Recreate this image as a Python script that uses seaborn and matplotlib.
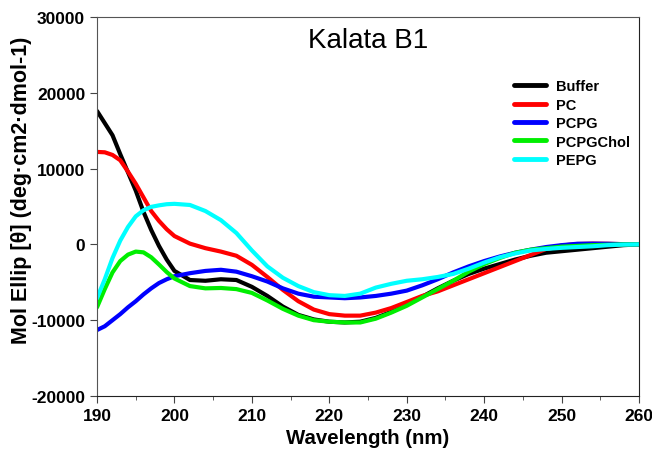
import numpy as np
import pandas as pd
import matplotlib
matplotlib.use("Agg")
import matplotlib.pyplot as plt
import seaborn as sns
from matplotlib.ticker import MultipleLocator

# CD spectra of Kalata B1 in buffer and lipid vesicles
# 1 nm steps up to 199 nm where the curves bend sharply, then 2 nm steps
wavelength = list(range(190, 200)) + list(range(200, 261, 2))

buffer_ = [17600, 16000, 14400, 11900, 9500, 7100, 4300, 1900, -200, -2000,
           -3500, -4700, -4800, -4600, -4700,
           -5600, -6800, -8200, -9300, -9900, -10200, -10300, -10200, -9700, -8900,
           -7900, -6900, -5800, -4800, -3900, -3200, -2600, -2000, -1500, -1100,
           -900, -700, -500, -300, -100, 0]
pc = [12200, 12150, 11800, 11100, 9600, 8000, 6200, 4400, 3100, 2000,
      1100, 100, -500, -950, -1500,
      -2700, -4300, -6000, -7500, -8600, -9200, -9400, -9400, -9000, -8400,
      -7600, -6800, -6200, -5400, -4600, -3800, -3000, -2200, -1400, -600,
      -150, 50, 100, 80, 30, 0]
pcpg = [-11300, -10800, -10000, -9200, -8300, -7500, -6600, -5800, -5100, -4600,
        -4200, -3800, -3500, -3350, -3600,
        -4200, -4900, -5800, -6500, -6900, -7000, -7100, -7000, -6800, -6500,
        -6100, -5400, -4600, -3700, -2900, -2200, -1600, -1100, -700, -350,
        -100, 80, 100, 80, 30, 0]
pcpgchol = [-8300, -5900, -3700, -2200, -1350, -950, -1050, -1700, -2650, -3650,
            -4500, -5500, -5800, -5750, -5900,
            -6400, -7400, -8500, -9400, -10000, -10200, -10300, -10300, -9800, -9000,
            -8100, -7000, -5900, -4800, -3600, -2600, -1800, -1100, -700, -500,
            -300, -200, -100, -50, 0, 0]
pepg = [-7100, -4600, -1800, 500, 2300, 3700, 4500, 4950, 5150, 5300,
        5350, 5200, 4400, 3200, 1500,
        -800, -2900, -4400, -5500, -6300, -6700, -6800, -6500, -5700, -5200,
        -4800, -4600, -4300, -3900, -3200, -2400, -1700, -1200, -800, -600,
        -450, -350, -250, -100, -30, 0]

samples = ["Buffer", "PC", "PCPG", "PCPGChol", "PEPG"]
colors = ["#000000", "#ff0000", "#0000ff", "#00ee00", "#00ffff"]

df = pd.DataFrame({
    "wavelength": wavelength * 5,
    "ellip": buffer_ + pc + pcpg + pcpgchol + pepg,
    "sample": sum([[s] * len(wavelength) for s in samples], []),
})

sns.set_style("ticks")
plt.rcParams["font.family"] = ["Liberation Sans", "DejaVu Sans"]
plt.rcParams["text.color"] = "black"
plt.rcParams["axes.labelcolor"] = "black"
plt.rcParams["axes.unicode_minus"] = False

fig = plt.figure(figsize=(6.52, 4.52), dpi=100)
ax = fig.add_axes([0.1488, 0.1217, 0.8313, 0.8385])

sns.lineplot(data=df, x="wavelength", y="ellip", hue="sample",
             palette=dict(zip(samples, colors)), hue_order=samples,
             linewidth=3, ax=ax)
for line in ax.get_lines():
    line.set_solid_joinstyle("round")
    line.set_solid_capstyle("round")

ax.set_xlim(190, 260)
ax.set_ylim(-20000, 30000)
ax.xaxis.set_major_locator(MultipleLocator(10))
ax.xaxis.set_minor_locator(MultipleLocator(5))
ax.yaxis.set_major_locator(MultipleLocator(10000))

for side in ["left", "top"]:
    ax.spines[side].set_color("#555555")
for side in ["right", "bottom"]:
    ax.spines[side].set_color("#222222")

ax.tick_params(axis="both", which="major", direction="out", length=5,
               labelsize=12.5, colors="#444444", labelcolor="black")
ax.tick_params(axis="x", which="minor", direction="out", length=3, colors="#444444")
for lab in ax.get_xticklabels() + ax.get_yticklabels():
    lab.set_fontweight("bold")

ax.set_xlabel("Wavelength (nm)", fontsize=14.7, fontweight="bold", labelpad=4)
ax.set_ylabel("Mol Ellip [θ] (deg·cm2·dmol-1)", fontsize=15.5, fontweight="bold")
ax.yaxis.set_label_coords(-0.12, 0.546)
ax.text(0.5, 0.94, "Kalata B1", transform=ax.transAxes, ha="center", va="center",
        fontsize=20)

leg = ax.legend(loc="upper right", bbox_to_anchor=(1.008, 0.87), frameon=False,
                handlelength=2.2, handletextpad=0.7, labelspacing=0.3,
                prop={"weight": "bold", "size": 10.5})
for line in leg.get_lines():
    line.set_linewidth(3.5)

fig.savefig("out.png", dpi=100)
